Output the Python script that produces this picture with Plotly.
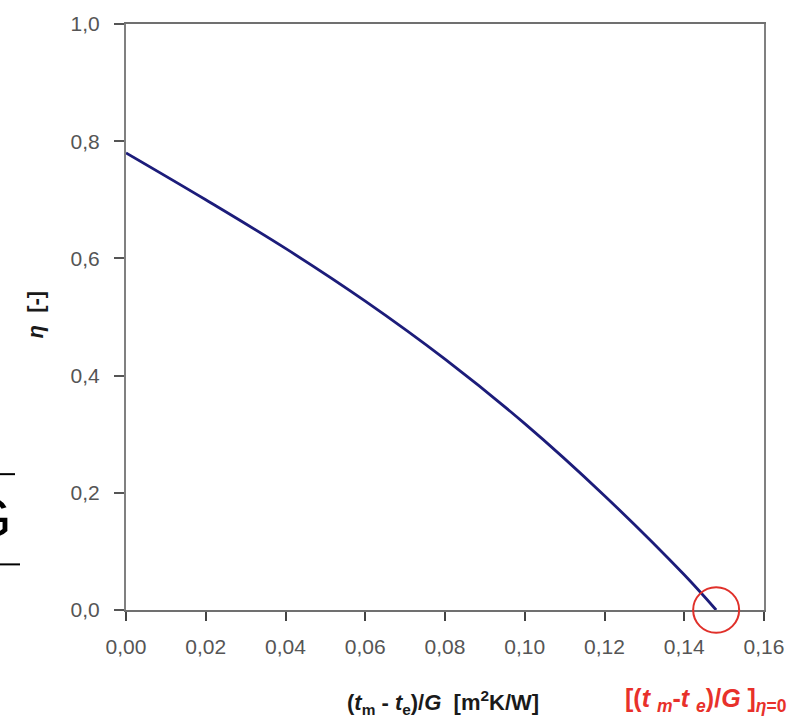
import plotly.graph_objects as go

# Data
x_vals = [0.0, 0.02, 0.04, 0.06, 0.08, 0.10, 0.12, 0.14, 0.148]
eta_vals = [0.78, 0.700, 0.617, 0.527, 0.428, 0.318, 0.195, 0.060, 0.0]
x_ticks = [0.0, 0.02, 0.04, 0.06, 0.08, 0.10, 0.12, 0.14, 0.16]
x_tick_labels = ["0,00", "0,02", "0,04", "0,06", "0,08", "0,10", "0,12", "0,14", "0,16"]
y_ticks = [0.0, 0.2, 0.4, 0.6, 0.8, 1.0]
y_tick_labels = ["0,0", "0,2", "0,4", "0,6", "0,8", "1,0"]
x_zero = 0.148  # intercept where eta = 0

W, H = 812, 719
L, R, T, B = 126, 48, 19, 109
PW, PH = W - L - R, H - T - B


def px(xp):
    return (xp - L) / PW


def py(yp):
    return (H - B - yp) / PH


FONT = "Liberation Sans, Arial, sans-serif"

fig = go.Figure()
fig.add_trace(go.Scatter(
    x=x_vals, y=eta_vals, mode="lines",
    line=dict(color="#1c1c7a", width=2.8, shape="spline", smoothing=1.0),
    hoverinfo="skip", showlegend=False,
))

fig.update_layout(
    width=W, height=H,
    margin=dict(l=L, r=R, t=T, b=B),
    plot_bgcolor="white", paper_bgcolor="white",
    font=dict(family=FONT, color="#555555", size=21),
    xaxis=dict(
        range=[0, 0.16], tickvals=x_ticks, ticktext=x_tick_labels,
        showgrid=False, zeroline=False, showline=True, mirror=True,
        linecolor="#707070", linewidth=2, ticks="outside", ticklen=9,
        tickcolor="#444444", tickwidth=1.5, ticklabelstandoff=8,
    ),
    yaxis=dict(
        range=[0, 1.0], tickvals=y_ticks, ticktext=y_tick_labels,
        showgrid=False, zeroline=False, showline=True, mirror=True,
        linecolor="#808080", linewidth=2, ticks="outside", ticklen=10,
        tickcolor="#555555", tickwidth=1.5, ticklabelstandoff=10,
    ),
)

# red circle at the eta=0 intercept (paper coords so it is not clipped)
cx = px(L + x_zero / 0.16 * PW)
cy = py(H - B)
rxp = 23 / PW
ryp = 23 / PH
fig.add_shape(type="circle", xref="paper", yref="paper",
              x0=cx - rxp, x1=cx + rxp, y0=cy - ryp, y1=cy + ryp,
              line=dict(color="#e0302a", width=2))

# axis titles
fig.add_annotation(
    xref="paper", yref="paper", x=px(443), y=py(703),
    text="<b>(<i>t</i><sub>m</sub> - <i>t</i><sub>e</sub>)/<i>G</i>  [m<sup>2</sup>K/W]</b>",
    showarrow=False, font=dict(family=FONT, size=22, color="#1a1a1a"),
    xanchor="center", yanchor="middle",
)
fig.add_annotation(
    xref="paper", yref="paper", x=px(36), y=py(312),
    text="<b><i>η</i>  [-]</b>", textangle=-90,
    showarrow=False, font=dict(family=FONT, size=22, color="#1a1a1a"),
    xanchor="center", yanchor="middle",
)
fig.add_annotation(
    xref="paper", yref="paper", x=px(706), y=py(701),
    text="<b>[(<i>t </i><sub><i>m</i></sub>-<i>t </i><sub><i>e</i></sub>)/<i>G</i> ]<sub><i>η</i>=0</sub></b>",
    showarrow=False, font=dict(family=FONT, size=25, color="#e8312b"),
    xanchor="center", yanchor="middle",
)

# cropped fragment at the left edge
fig.add_annotation(
    xref="paper", yref="paper", x=px(14), y=py(517),
    text="G", showarrow=False,
    font=dict(family=FONT, size=56, color="#000000"),
    xanchor="right", yanchor="middle",
)
fig.add_shape(type="line", xref="paper", yref="paper",
              x0=px(-5), x1=px(15), y0=py(473), y1=py(473),
              line=dict(color="black", width=2))
fig.add_shape(type="line", xref="paper", yref="paper",
              x0=px(-5), x1=px(20), y0=py(564), y1=py(564),
              line=dict(color="black", width=2))

fig.write_html("out.html", config={"displayModeBar": False},
               post_script="document.body.style.margin='0';")
